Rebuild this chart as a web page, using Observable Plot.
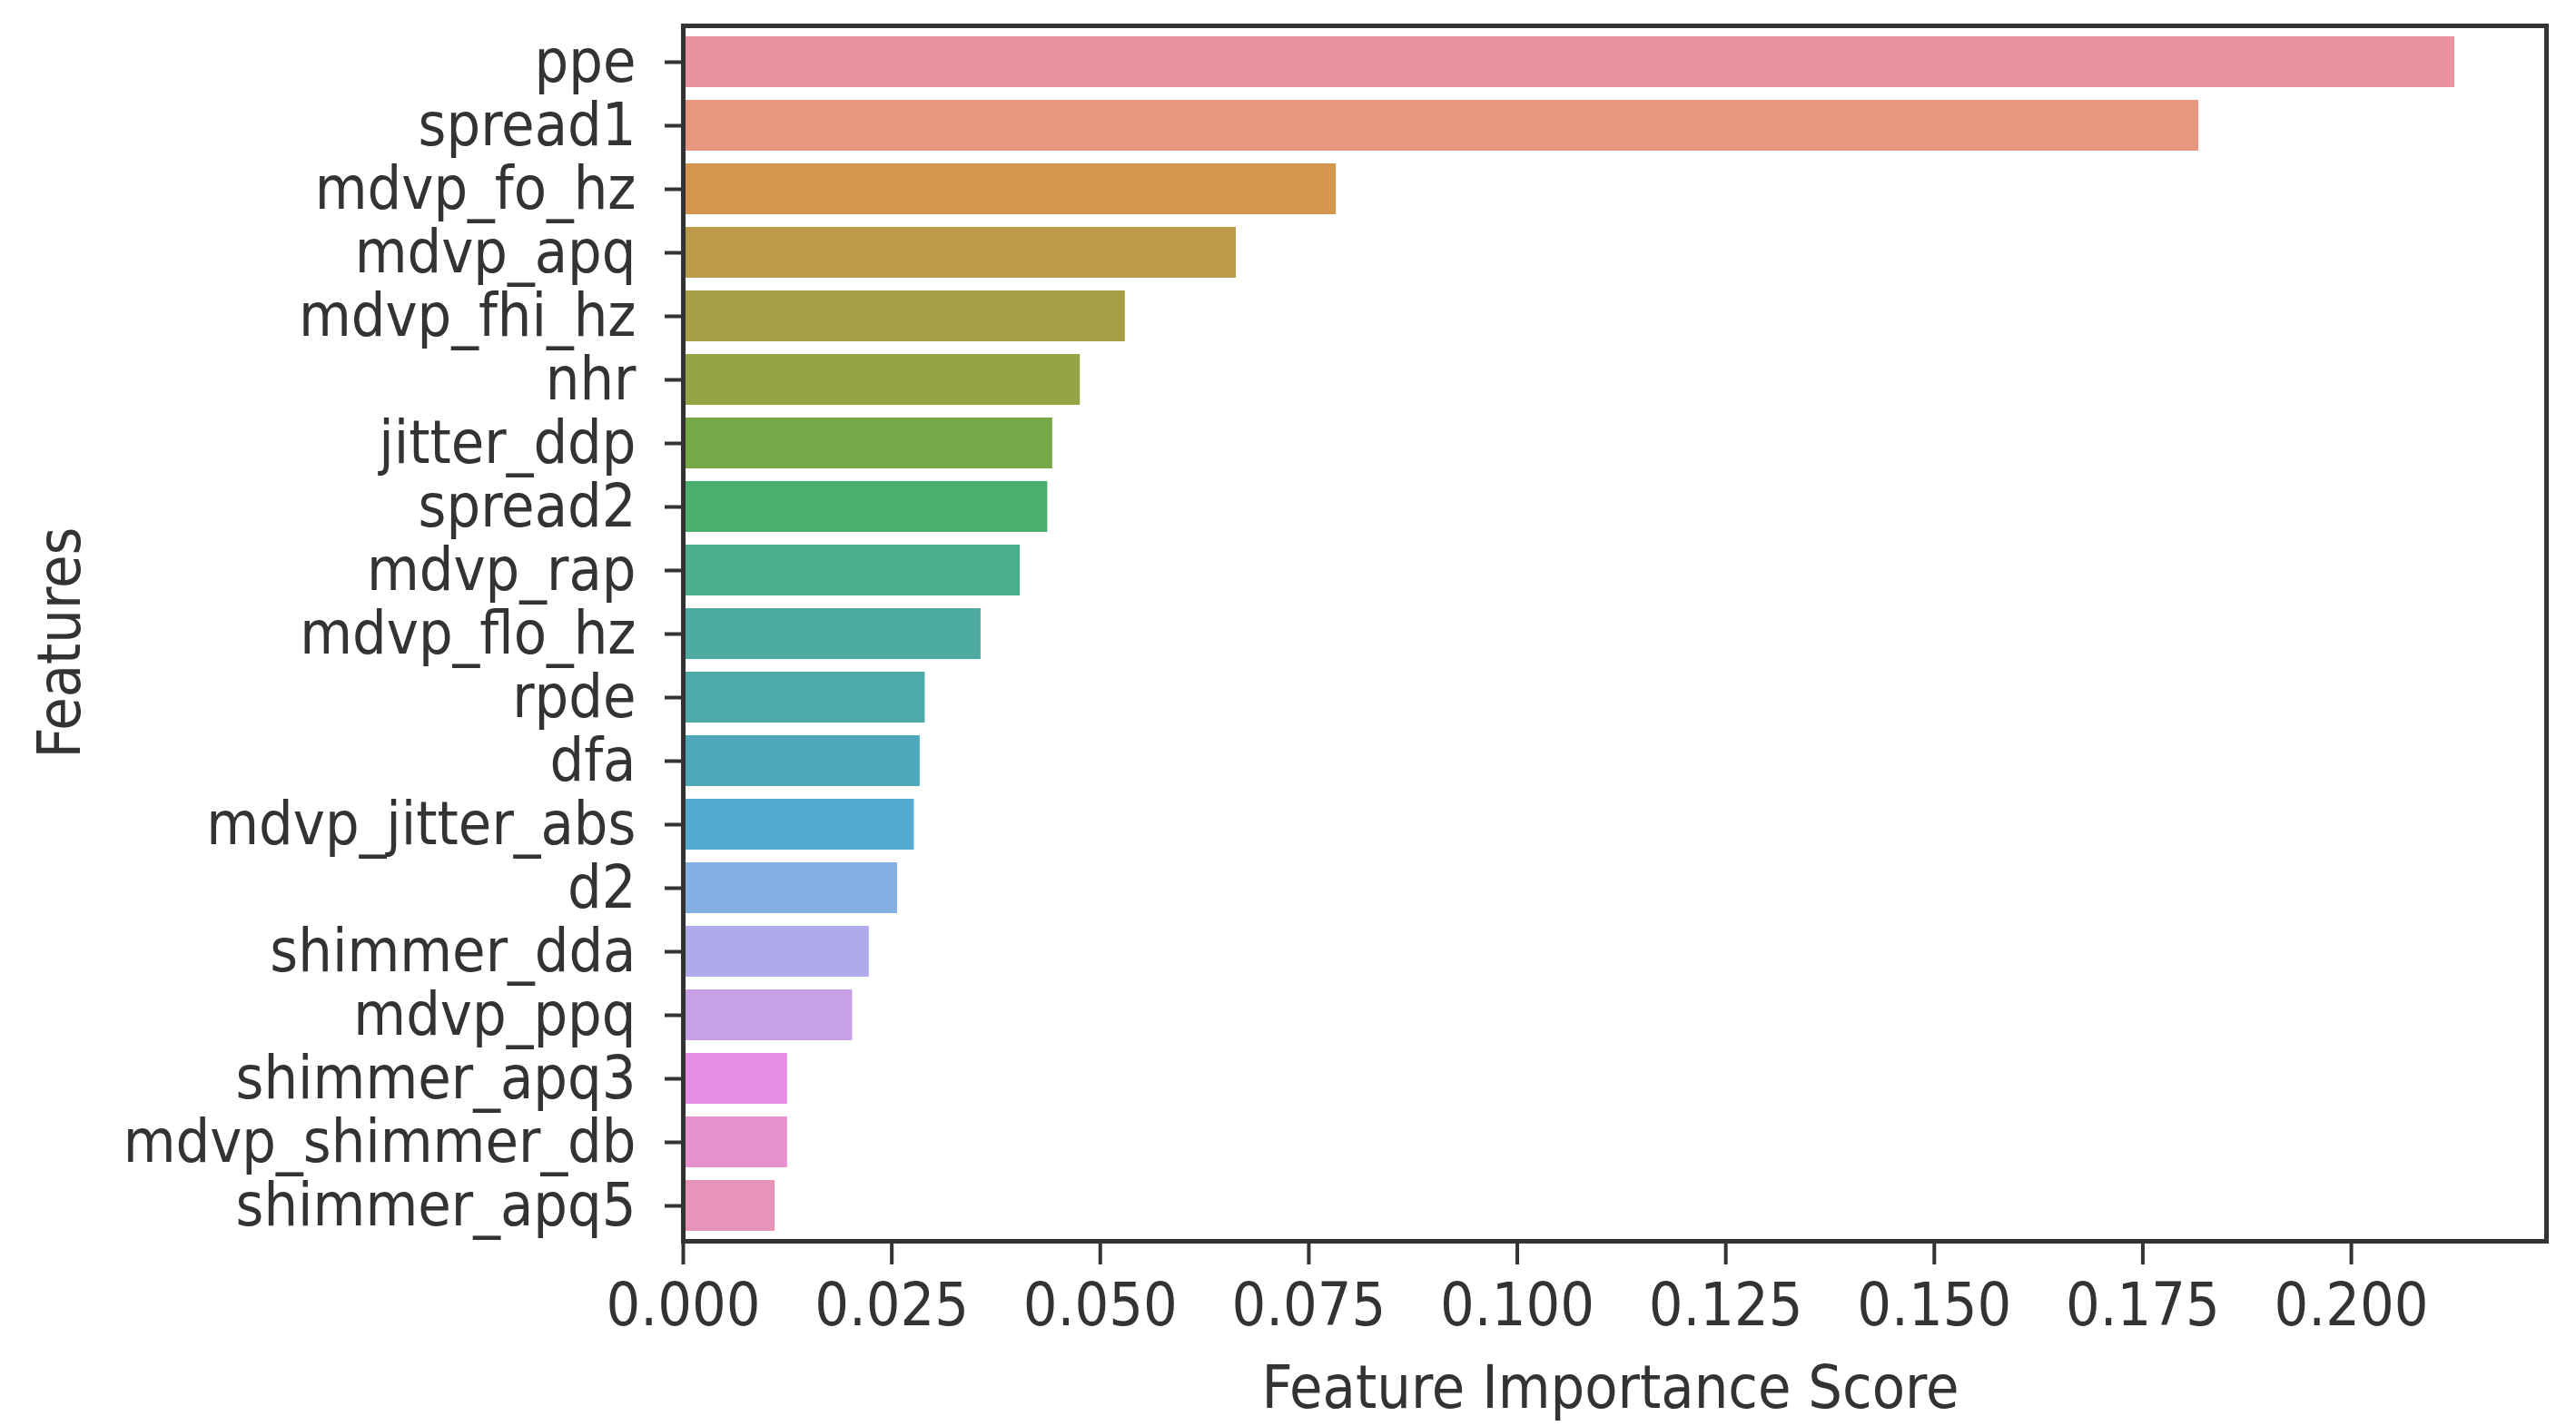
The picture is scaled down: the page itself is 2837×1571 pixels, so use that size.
<!DOCTYPE html>
<html>
<head>
<meta charset="utf-8">
<script src="https://cdn.jsdelivr.net/npm/d3@7"></script>
<script src="https://cdn.jsdelivr.net/npm/@observablehq/plot@0.6"></script>
<style>
  html, body { margin: 0; padding: 0; background: white; }
  svg g[aria-label$="tick"] path,
  svg g[aria-label^="x-axis"] line,
  svg g[aria-label^="y-axis"] line { stroke-width: 4px; }
</style>
</head>
<body>
<div id="chart"></div>
<script>
const features = [
  "ppe", "spread1", "mdvp_fo_hz", "mdvp_apq", "mdvp_fhi_hz", "nhr",
  "jitter_ddp", "spread2", "mdvp_rap", "mdvp_flo_hz", "rpde", "dfa",
  "mdvp_jitter_abs", "d2", "shimmer_dda", "mdvp_ppq", "shimmer_apq3",
  "mdvp_shimmer_db", "shimmer_apq5"
];
const scores = [
  0.2124, 0.1817, 0.0783, 0.0663, 0.0530, 0.0476,
  0.0443, 0.0437, 0.0404, 0.0357, 0.0290, 0.0284,
  0.0277, 0.0257, 0.0223, 0.0203, 0.0125,
  0.0125, 0.0110
];
const barColors = [
  "#E894A0", "#E69780", "#D3964F", "#BB9A4A", "#A79F48", "#94A548",
  "#76AA49", "#4BAE6E", "#4CAE8C", "#4CAAA0", "#4EAAA8", "#4FA8BA",
  "#54AAD0", "#85B0E4", "#AFAAEA", "#C8A0E6", "#E48CE6",
  "#E690CC", "#E894B9"
];
const xTicks = [0, 0.025, 0.05, 0.075, 0.1, 0.125, 0.15, 0.175, 0.2];
const xTitle = "Feature Importance Score";
const yTitle = "Features";

const data = features.map((f, i) => ({feature: f, score: scores[i]}));

const chart = Plot.plot({
  width: 2837,
  height: 1571,
  marginLeft: 752,
  marginRight: 33,
  marginTop: 28,
  marginBottom: 204,
  style: {
    fontFamily: '"DejaVu Sans Condensed", "DejaVu Sans", sans-serif',
    fontSize: "66px",
    color: "#333",
    background: "white"
  },
  x: {domain: [0, 0.2234], ticks: xTicks, tickFormat: d3.format(".3f"), tickSize: 26, tickPadding: 20, label: null},
  y: {domain: features, paddingInner: 0.2, paddingOuter: 0.1, tickSize: 20, tickPadding: 32, label: null},
  color: {domain: features, range: barColors},
  marks: [
    Plot.barX(data, {x: "score", y: "feature", fill: "feature"}),
    Plot.frame({stroke: "#333", strokeWidth: 5}),
    Plot.text([xTitle], {text: d => d, frameAnchor: "bottom", lineAnchor: "bottom", dy: 183, dx: -5, fontSize: 66, fill: "#333"}),
    Plot.text([yTitle], {text: d => d, frameAnchor: "left", textAnchor: "middle", rotate: -90, lineAnchor: "middle", dx: -686, dy: 10, fontSize: 66, fill: "#333"})
  ]
});
document.getElementById("chart").appendChild(chart);
</script>
</body>
</html>
